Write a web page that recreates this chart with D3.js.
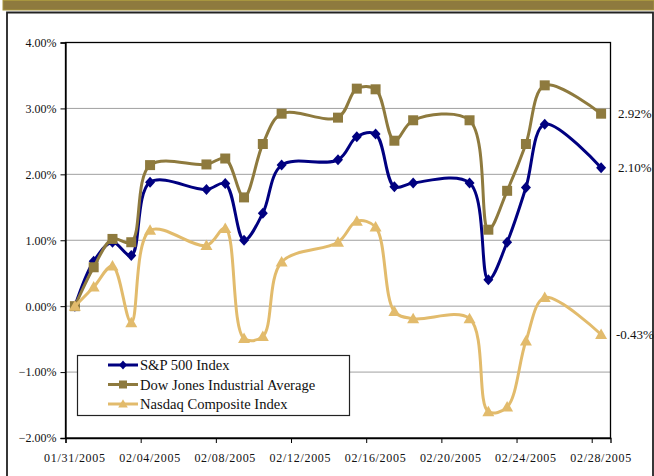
<!DOCTYPE html>
<html>
<head>
<meta charset="utf-8">
<script src="https://cdn.jsdelivr.net/npm/d3@7"></script>
<style>
  html, body { margin: 0; padding: 0; background: #fff; }
  svg { display: block; }
  text { font-family: "Liberation Serif", "Times New Roman", serif; fill: #111; }
</style>
</head>
<body>
<svg id="chart" width="654" height="476"></svg>
<script>
// ---- data ----
const dates = ["2005-01-31","2005-02-01","2005-02-02","2005-02-03","2005-02-04",
  "2005-02-07","2005-02-08","2005-02-09","2005-02-10","2005-02-11",
  "2005-02-14","2005-02-15","2005-02-16","2005-02-17","2005-02-18",
  "2005-02-21","2005-02-22","2005-02-23","2005-02-24","2005-02-25","2005-02-28"];
const sp500  = [0, 0.68, 0.97, 0.77, 1.88, 1.77, 1.86, 1.00, 1.41, 2.14, 2.22, 2.57, 2.61, 1.81, 1.87, 1.87, 0.40, 0.97, 1.80, 2.76, 2.10];
const dow    = [0, 0.59, 1.02, 0.97, 2.14, 2.15, 2.24, 1.65, 2.46, 2.92, 2.86, 3.30, 3.29, 2.51, 2.82, 2.82, 1.16, 1.75, 2.46, 3.35, 2.92];
const nasdaq = [0, 0.29, 0.61, -0.25, 1.15, 0.92, 1.18, -0.49, -0.46, 0.67, 0.97, 1.29, 1.20, -0.08, -0.19, -0.19, -1.60, -1.53, -0.53, 0.13, -0.43];
const seriesNames = ["S&P 500 Index", "Dow Jones Industrial Average", "Nasdaq Composite Index"];
const endLabels = ["2.10%", "2.92%", "-0.43%"];
const xTickLabels = ["01/31/2005","02/04/2005","02/08/2005","02/12/2005","02/16/2005","02/20/2005","02/24/2005","02/28/2005"];
const yTicks = [-2, -1, 0, 1, 2, 3, 4];
const xDomain = ["2005-01-31", "2005-03-01"];

// ---- layout ----
const svg = d3.select("#chart");
const L = 65.5, R = 610.5, T = 42.5, B = 438;
const parse = d3.utcParse("%Y-%m-%d");
const parseLbl = d3.utcParse("%m/%d/%Y");
const fmtLbl = d3.utcFormat("%m/%d/%Y");
const x = d3.scaleUtc().domain(xDomain.map(parse)).range([L, R]);
const y = d3.scaleLinear().domain([-2, 4]).range([B, T]);
const mid = d => d3.utcHour.offset(d, 12);

// top band and outer frame
svg.append("rect").attr("x", 3).attr("y", 0.5).attr("width", 651).attr("height", 9.5)
  .attr("fill", "#8E7A3E").attr("stroke", "#A8963F").attr("stroke-width", 1);
svg.append("path").attr("d", "M7,480V12.5H653V480")
  .attr("fill", "none").attr("stroke", "#222").attr("stroke-width", 1.8);

// gridlines
svg.append("g").selectAll("line").data(yTicks.filter(v => v > -2 && v < 4)).join("line")
  .attr("x1", L).attr("x2", R).attr("y1", d => y(d)).attr("y2", d => y(d))
  .attr("stroke", "#A0A0A0").attr("stroke-width", 1);

// plot box
svg.append("rect").attr("x", L).attr("y", T).attr("width", R - L).attr("height", B - T)
  .attr("fill", "none").attr("stroke", "#000").attr("stroke-width", 1.3);

// y axis
const yAxis = d3.axisLeft(y).tickValues(yTicks).tickSize(5).tickPadding(4)
  .tickFormat(d => d3.format(".2f")(d) + "%");
const gy = svg.append("g").attr("transform", `translate(${L},0)`).call(yAxis);
gy.select(".domain").attr("stroke", "#000").attr("stroke-width", 1.3);
gy.selectAll(".tick line").attr("stroke", "#000");
gy.selectAll(".tick text").attr("font-size", 12).attr("font-family", "Liberation Serif").attr("fill", "#111");

// x axis: ticks at day boundaries, labels centred on the day
const tickDates = xTickLabels.map(parseLbl);
const xAxis = d3.axisBottom(x).tickValues(tickDates).tickSize(5).tickFormat("");
const gx = svg.append("g").attr("transform", `translate(0,${B})`).call(xAxis);
gx.select(".domain").attr("stroke", "#000").attr("stroke-width", 1.3);
gx.selectAll(".tick line").attr("stroke", "#000");
svg.append("g").selectAll("text").data(tickDates).join("text")
  .attr("x", d => x(mid(d))).attr("y", 461.5)
  .attr("text-anchor", "middle").attr("font-size", 12).attr("letter-spacing", 0.7)
  .text(d => fmtLbl(d));

// series
const colors = ["#000080", "#8E7A3E", "#E2BB6C"];
const allSeries = [sp500, dow, nasdaq];
const diamond = "M0,-5.5L5,0L0,5.5L-5,0Z";
const square = "M-5,-5H5V5H-5Z";
const triangle = "M0,-6L6,4.5H-6Z";
const shapes = [diamond, square, triangle];
const pDates = dates.map(parse).map(mid);
const line = d3.line().x(d => x(d[0])).y(d => y(d[1])).curve(d3.curveCatmullRom.alpha(0.5));

allSeries.forEach((vals, i) => {
  const pts = vals.map((v, j) => [pDates[j], v]);
  const g = svg.append("g");
  g.append("path").attr("d", line(pts)).attr("fill", "none")
    .attr("stroke", colors[i]).attr("stroke-width", 3).attr("stroke-linejoin", "round");
  g.selectAll("path.m").data(pts).join("path").attr("class", "m")
    .attr("transform", d => `translate(${x(d[0])},${y(d[1])})`)
    .attr("d", shapes[i]).attr("fill", colors[i]);
});

// end labels
endLabels.forEach((lbl, i) => {
  const v = allSeries[i][allSeries[i].length - 1];
  svg.append("text").attr("x", v < 0 ? 616 : 618).attr("y", y(v) + 4.5)
    .attr("font-size", 13).text(lbl);
});

// legend
const lg = svg.append("g");
lg.append("rect").attr("x", 77.5).attr("y", 355.5).attr("width", 272).attr("height", 60)
  .attr("fill", "#fff").attr("stroke", "#222").attr("stroke-width", 1.2);
const legY = [365, 384.5, 404];
seriesNames.forEach((name, i) => {
  lg.append("line").attr("x1", 108).attr("x2", 138).attr("y1", legY[i]).attr("y2", legY[i])
    .attr("stroke", colors[i]).attr("stroke-width", 3);
  lg.append("path").attr("d", shapes[i]).attr("fill", colors[i])
    .attr("transform", `translate(123,${legY[i]}) scale(0.8)`);
  lg.append("text").attr("x", 140).attr("y", legY[i] + 5).attr("font-size", 14.6).text(name);
});
</script>
</body>
</html>
